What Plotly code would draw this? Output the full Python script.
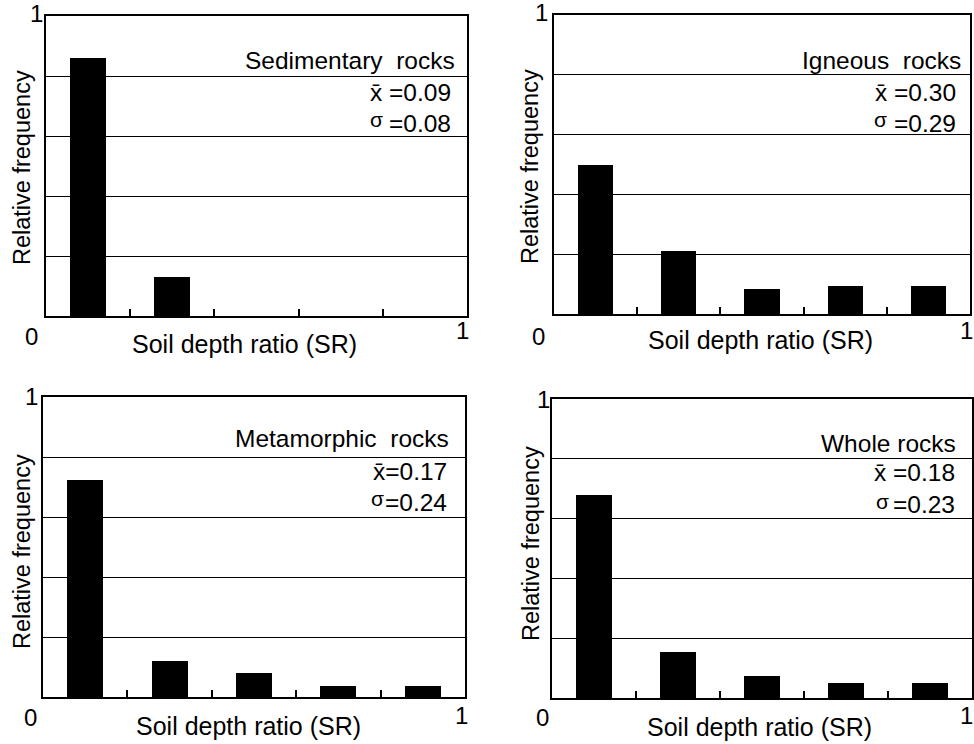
import plotly.graph_objects as go

# ---------------- data ----------------
bin_centers = [0.1, 0.3, 0.5, 0.7, 0.9]
sedimentary = [0.86, 0.13, 0.0, 0.0, 0.0]
igneous = [0.50, 0.21, 0.083, 0.092, 0.092]
metamorphic = [0.723, 0.12, 0.081, 0.037, 0.037]
whole = [0.68, 0.154, 0.072, 0.05, 0.05]

panel_names = ["Sedimentary  rocks", "Igneous  rocks", "Metamorphic  rocks", "Whole rocks"]
means = ["0.09", "0.30", "0.17", "0.18"]
sigmas = ["0.08", "0.29", "0.24", "0.23"]
grid_vals = [0.2, 0.4, 0.6, 0.8]
x_title = "Soil depth ratio (SR)"
y_title = "Relative frequency"

W, H = 974, 744
FONT = "Liberation Sans, Arial, Helvetica, sans-serif"

def px(x):
    return x / W

def py(y):
    return 1 - y / H

# panel geometry in pixels: left, right, top, bottom
panels = [
    dict(l=46, r=467, t=16, b=316, vals=sedimentary),
    dict(l=554, r=970, t=15, b=314, vals=igneous),
    dict(l=43, r=465, t=397, b=697, vals=metamorphic),
    dict(l=552, r=972, t=399, b=698, vals=whole),
]

fig = go.Figure()
annotations = []

for i, p in enumerate(panels):
    n = "" if i == 0 else str(i + 1)
    fig.add_trace(go.Bar(
        x=bin_centers, y=p["vals"], width=0.085,
        marker=dict(color="black", line=dict(width=0)),
        xaxis="x" + n, yaxis="y" + n, showlegend=False,
    ))
    fig.update_layout(**{
        "xaxis" + n: dict(
            domain=[px(p["l"]), px(p["r"])], range=[0, 1], anchor="y" + n,
            showgrid=False, zeroline=False, showticklabels=False,
            ticks="inside", tickvals=grid_vals, ticklen=7, tickwidth=2, tickcolor="black",
            showline=True, linecolor="black", linewidth=2, mirror=True,
        ),
        "yaxis" + n: dict(
            domain=[py(p["b"]), py(p["t"])], range=[0, 1], anchor="x" + n,
            showgrid=True, gridcolor="black", gridwidth=1, tickvals=grid_vals,
            zeroline=False, showticklabels=False, ticks="",
            showline=True, linecolor="black", linewidth=2, mirror=True,
        ),
    })

# text positions (pixels)
text_pos = [
    dict(name=(457, 60), mean=(453, 92), sig=(453, 124), sigsym=(376, 120),
         one_y=(36, 14), zero=(31, 336), one_x=(462, 331), xt=(245, 344), yt=(22, 168)),
    dict(name=(963, 60), mean=(958, 92), sig=(958, 124), sigsym=(880, 120),
         one_y=(541, 13), zero=(538, 336), one_x=(966, 331), xt=(760, 340), yt=(530, 167)),
    dict(name=(451, 438), mean=(449, 471), sig=(449, 503), sigsym=(377, 499),
         one_y=(31, 396), zero=(30, 717), one_x=(461, 715), xt=(248, 726), yt=(22, 552)),
    dict(name=(958, 443), mean=(957, 472), sig=(957, 505), sigsym=(882, 502),
         one_y=(543, 399), zero=(542, 717), one_x=(966, 715), xt=(759, 727), yt=(531, 544)),
]

mean_sep = [" ", " ", "", " "]

def ann(text, pos, xanchor="center", size=23, angle=0):
    annotations.append(dict(
        text=text, x=px(pos[0]), y=py(pos[1]), xref="paper", yref="paper",
        xanchor=xanchor, yanchor="middle", showarrow=False, textangle=angle,
        font=dict(family=FONT, size=size, color="black"),
    ))

for i, t in enumerate(text_pos):
    ann(panel_names[i], t["name"], "right", size=24.5)
    ann("x\u0304" + mean_sep[i] + "=" + means[i], t["mean"], "right", size=24.5)
    ann("=" + sigmas[i], t["sig"], "right", size=24.5)
    ann("\u03c3", t["sigsym"], "center", size=21)
    ann("1", t["one_y"], "center", size=24)
    ann("0", t["zero"], "center", size=24)
    ann("1", t["one_x"], "center", size=24)
    ann(x_title, t["xt"], "center", size=25)
    ann(y_title, t["yt"], "center", size=23.5, angle=-90)

fig.update_layout(
    width=W, height=H, margin=dict(l=0, r=0, t=0, b=0),
    paper_bgcolor="white", plot_bgcolor="white",
    bargap=0, annotations=annotations, showlegend=False,
    font=dict(family=FONT, color="black"),
)

fig.write_html("out.html")
